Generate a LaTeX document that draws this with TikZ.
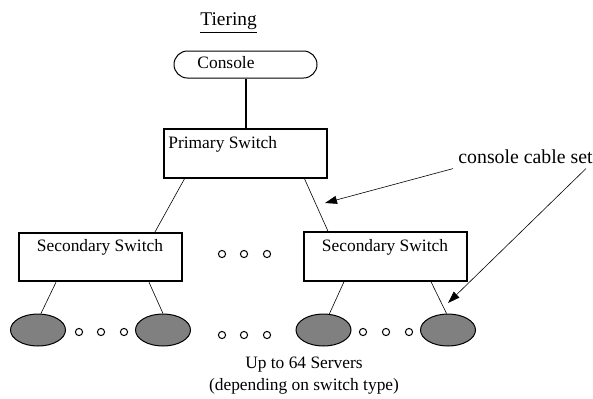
\documentclass[tikz,border=0pt]{standalone}
\usepackage{fontspec}
\setmainfont{Liberation Serif}
\usetikzlibrary{shapes.misc,shapes.geometric,arrows.meta,calc}
\begin{document}
\begin{tikzpicture}[x=0.5pt,y=-0.5pt,
 txt/.style={inner sep=0pt, font=\fontsize{8.7pt}{10pt}\selectfont},
 bigtxt/.style={inner sep=0pt, font=\fontsize{9.9pt}{11pt}\selectfont},
 titletxt/.style={inner sep=0pt, font=\fontsize{9.7pt}{11pt}\selectfont},
 switchbox/.style={draw, line width=1pt, minimum width=81.5pt, minimum height=24.25pt, inner sep=0pt},
 consolebox/.style={draw, rounded rectangle, line width=0.5pt, minimum width=71.5pt, minimum height=13.5pt, inner sep=0pt},
 server/.style={draw, ellipse, fill=gray, line width=0.5pt, minimum width=27.5pt, minimum height=16pt, inner sep=0pt},
 dotc/.style={draw, circle, line width=0.5pt, minimum size=3.6pt, inner sep=0pt},
 link/.style={line width=0.3pt},
 heavylink/.style={line width=1pt},
 callout/.style={line width=0.3pt, -{Triangle[length=6pt,width=4pt]}}
]
\useasboundingbox (0,0) rectangle (593,398);

\node[titletxt, anchor=base west] (title) at (200,25) {\underline{Tiering}};

\node[consolebox] (console) at (245.5,64.5) {};
\node[txt, anchor=base] (consoletxt) at (226,68) {Console};

\node[switchbox] (primary) at (245,153.5) {};
\node[txt, anchor=base west] (primarytxt) at (168,148) {Primary Switch};

\node[switchbox] (secL) at (100.5,257) {};
\node[txt, anchor=base] (secLtxt) at (100,251) {Secondary Switch};
\node[switchbox] (secR) at (385.5,256.5) {};
\node[txt, anchor=base] (secRtxt) at (385,251) {Secondary Switch};

\node[dotc] (m1) at (222,254) {};
\node[dotc] (m2) at (244,254) {};
\node[dotc] (m3) at (267,254) {};

\node[server] (s1) at (38,330) {};
\node[server] (s2) at (163,330) {};
\node[server] (s3) at (323.5,330) {};
\node[server] (s4) at (448,330) {};

\node[dotc] (a1) at (79,332) {};
\node[dotc] (a2) at (101,332) {};
\node[dotc] (a3) at (124,332) {};
\node[dotc] (b1) at (222,335) {};
\node[dotc] (b2) at (244,335) {};
\node[dotc] (b3) at (267,335) {};
\node[dotc] (c1) at (363,332) {};
\node[dotc] (c2) at (386,332) {};
\node[dotc] (c3) at (409,332) {};

\node[txt, anchor=base] (up) at (304,368) {Up to 64 Servers};
\node[txt, anchor=base] (dep) at (304,390) {(depending on switch type)};

\node[bigtxt, anchor=base west] (cable) at (458,163) {console cable set};
\coordinate (tip1) at (325,203);
\coordinate (tip2) at (448,303);

\draw[heavylink] (console.south) -- (console.south |- primary.north);
\draw[link] ($(primary.south west)+(22,0)$) -- ($(secL.north east)+(-29,2)$);
\draw[link] ($(primary.south east)+(-23,0)$) -- ($(secR.north west)+(25,0)$);
\draw[link] ($(secL.south west)+(38,0)$) -- (s1.80);
\draw[link] ($(secL.south east)+(-34,0)$) -- (s2.north);
\draw[link] ($(secR.south west)+(41,0)$) -- (s3.70);
\draw[link] ($(secR.south east)+(-37,0)$) -- (s4.95);
\draw[callout] ($(cable.south west)+(-5,5)$) -- (tip1);
\draw[callout] ($(cable.south east)+(-7,5)$) -- (tip2);
\end{tikzpicture}
\end{document}
